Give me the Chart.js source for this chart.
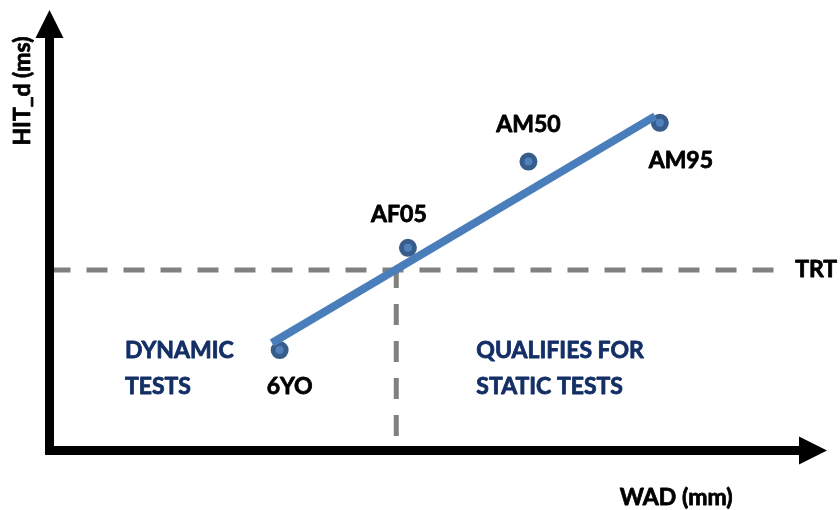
<!DOCTYPE html>
<html>
<head>
<meta charset="utf-8">
<script src="https://cdn.jsdelivr.net/npm/chart.js@4/dist/chart.umd.min.js"></script>
<style>
  html, body { margin: 0; padding: 0; background: #fff; }
  #wrap { width: 840px; height: 510px; }
</style>
</head>
<body>
<div id="wrap"><canvas id="myChart" width="840" height="510"></canvas></div>
<script>
// dummy names and values (schematic units, 0..100)
var dummyNames = ['6YO', 'AF05', 'AM50', 'AM95'];
var wadValues = [29.6, 46.1, 61.6, 78.5];
var hitValues = [22.8, 46.0, 65.6, 74.4];

// fitted trend line (start, end)
var trendX = [28.6, 77.9];
var trendY = [24.4, 75.9];

// threshold TRT and the WAD where trend crosses it
var trtValue = 41.0;
var trtCrossX = 44.6;

var ctx = document.getElementById('myChart').getContext('2d');
var FONT = 'Lato, "DejaVu Sans", sans-serif';

var points = wadValues.map(function(x, i) { return { x: x, y: hitValues[i] }; });

// heavier text, a bit like the original bold face
function boldText(c, s, x, y) {
  c.fillText(s, x, y);
  c.strokeText(s, x, y);
}

// labels + axis arrows, placed through the scales
var schemePlugin = {
  id: 'scheme',
  afterDatasetsDraw: function(chart) {
    var c = chart.ctx;
    var sx = chart.scales.x, sy = chart.scales.y;
    var px = function(v) { return sx.getPixelForValue(v); };
    var py = function(v) { return sy.getPixelForValue(v); };

    c.save();
    // axes
    c.strokeStyle = '#000';
    c.fillStyle = '#000';
    c.lineWidth = 9;
    c.lineCap = 'butt';
    var ox = px(0), oy = py(0);
    var yTip = py(100), xTip = px(100);
    c.beginPath();
    c.moveTo(ox, oy + 4.5);
    c.lineTo(ox, yTip + 26);
    c.moveTo(ox - 4.5, oy);
    c.lineTo(xTip - 26, oy);
    c.stroke();
    c.beginPath();
    c.moveTo(ox, yTip);
    c.lineTo(ox - 14, yTip + 28);
    c.lineTo(ox + 14, yTip + 28);
    c.closePath();
    c.fill();
    c.beginPath();
    c.moveTo(xTip, oy);
    c.lineTo(xTip - 28, oy - 14);
    c.lineTo(xTip - 28, oy + 14);
    c.closePath();
    c.fill();

    // point labels
    var offs = [[10, 37], [-9, -33], [0, -37], [21, 38]];
    c.font = 'bold 23px ' + FONT;
    c.textAlign = 'center';
    c.textBaseline = 'middle';
    c.fillStyle = '#000';
    c.strokeStyle = '#000';
    c.lineWidth = 0.8;
    c.lineJoin = 'round';
    dummyNames.forEach(function(n, i) {
      boldText(c, n, px(wadValues[i]) + offs[i][0], py(hitValues[i]) + offs[i][1]);
    });
    boldText(c, 'TRT', px(98.6), py(trtValue));

    // axis titles
    boldText(c, 'WAD (mm)', px(80.6), py(-10.8));
    c.save();
    c.translate(px(-3.5), py(81.6));
    c.rotate(-Math.PI / 2);
    boldText(c, 'HIT_d (ms)', 0, 0);
    c.restore();

    // region notes
    c.fillStyle = '#132f66';
    c.strokeStyle = '#132f66';
    c.textAlign = 'left';
    boldText(c, 'DYNAMIC', px(9.7), py(22.6));
    boldText(c, 'TESTS', px(9.7), py(14.5));
    boldText(c, 'QUALIFIES FOR', px(54.9), py(22.6));
    boldText(c, 'STATIC TESTS', px(54.9), py(14.5));
    c.restore();
  }
};

var chart = new Chart(ctx, {
  type: 'scatter',
  data: {
    datasets: [
      {
        // trend line, on top of the markers
        type: 'line',
        data: [{ x: trendX[0], y: trendY[0] }, { x: trendX[1], y: trendY[1] }],
        borderColor: '#4a7ebb',
        borderWidth: 8,
        borderCapStyle: 'butt',
        pointRadius: 0,
        order: 1
      },
      {
        data: points,
        pointRadius: 6.5,
        pointBorderWidth: 5,
        backgroundColor: '#4f81bd',
        borderColor: '#385d8a',
        order: 2
      },
      {
        // TRT threshold
        type: 'line',
        data: [{ x: 0, y: trtValue }, { x: 94.6, y: trtValue }],
        borderColor: '#808080',
        borderWidth: 5,
        borderDash: [21, 16],
        borderCapStyle: 'butt',
        pointRadius: 0,
        order: 3
      },
      {
        type: 'line',
        data: [{ x: trtCrossX, y: 3.3 }, { x: trtCrossX, y: trtValue }],
        borderColor: '#808080',
        borderWidth: 5,
        borderDash: [21, 16],
        borderCapStyle: 'butt',
        pointRadius: 0,
        order: 3
      }
    ]
  },
  options: {
    responsive: false,
    animation: false,
    devicePixelRatio: 1,
    layout: { padding: 0, autoPadding: false },
    plugins: { legend: { display: false }, tooltip: { enabled: false } },
    scales: {
      x: { type: 'linear', display: false, min: -6.367, max: 101.67 },
      y: { type: 'linear', display: false, min: -13.51, max: 102.27 }
    }
  },
  plugins: [schemePlugin]
});
</script>
</body>
</html>
